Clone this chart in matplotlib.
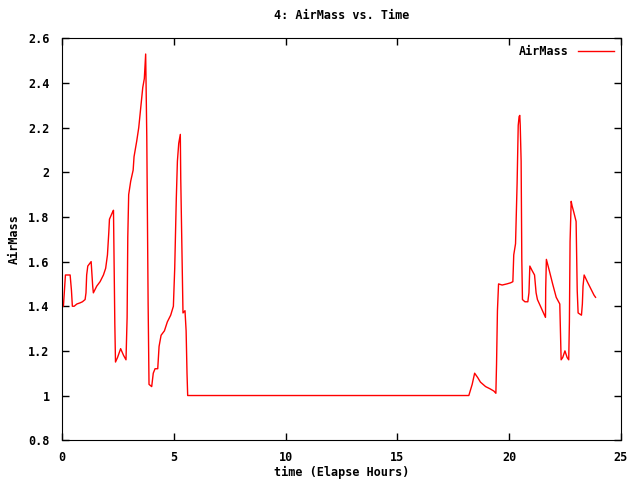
import matplotlib
matplotlib.use("Agg")
import matplotlib.pyplot as plt

# elapsed time (hours) and airmass
time_hours = [0.0, 0.06, 0.13, 0.15, 0.36, 0.42, 0.46, 0.54, 0.66, 0.80, 0.91, 1.03,
              1.07, 1.10, 1.15, 1.30, 1.37, 1.40, 1.55, 1.70, 1.85, 1.95, 2.03, 2.09,
              2.12, 2.25, 2.30, 2.32, 2.36, 2.39, 2.48, 2.62, 2.75, 2.86, 2.91, 2.94,
              2.98, 3.07, 3.18, 3.22, 3.34, 3.43, 3.52, 3.61, 3.68, 3.74, 3.79, 3.85,
              3.89, 4.01, 4.08, 4.16, 4.28, 4.34, 4.43, 4.58, 4.71, 4.86, 4.98, 5.04,
              5.11, 5.16, 5.22, 5.29, 5.31, 5.38, 5.41, 5.50, 5.55, 5.59, 5.62,
              18.20, 18.35, 18.46, 18.60, 18.72, 18.95, 19.15, 19.32, 19.41, 19.44,
              19.48, 19.53, 19.69, 19.90, 20.07, 20.17, 20.21, 20.29, 20.36, 20.41,
              20.45, 20.48, 20.50, 20.54, 20.57, 20.60, 20.71, 20.84, 20.89, 20.93,
              21.03, 21.14, 21.21, 21.27, 21.63, 21.64, 21.67, 21.80, 21.95, 22.11,
              22.27, 22.30, 22.33, 22.40, 22.50, 22.60, 22.67, 22.70, 22.73, 22.78,
              22.82, 22.90, 23.00, 23.05, 23.09, 23.24, 23.28, 23.31, 23.36, 23.50,
              23.65, 23.80, 23.87]
airmass = [1.40, 1.40, 1.51, 1.54, 1.54, 1.47, 1.40, 1.40, 1.41, 1.415, 1.42, 1.43,
           1.46, 1.54, 1.58, 1.60, 1.49, 1.46, 1.49, 1.51, 1.54, 1.57, 1.63, 1.73,
           1.79, 1.82, 1.83, 1.67, 1.32, 1.15, 1.17, 1.21, 1.18, 1.16, 1.35, 1.71,
           1.90, 1.96, 2.01, 2.07, 2.14, 2.20, 2.29, 2.38, 2.42, 2.53, 2.16, 1.41,
           1.05, 1.04, 1.10, 1.12, 1.12, 1.22, 1.27, 1.29, 1.33, 1.36, 1.40, 1.57,
           1.88, 2.05, 2.13, 2.17, 1.97, 1.56, 1.37, 1.38, 1.29, 1.10, 1.00,
           1.00, 1.05, 1.10, 1.08, 1.06, 1.04, 1.03, 1.02, 1.01, 1.14,
           1.38, 1.50, 1.495, 1.50, 1.505, 1.51, 1.63, 1.68, 1.95, 2.21,
           2.25, 2.255, 2.21, 2.05, 1.61, 1.43, 1.42, 1.42, 1.46, 1.58,
           1.56, 1.54, 1.46, 1.43, 1.35, 1.48, 1.61, 1.56, 1.50, 1.44,
           1.41, 1.28, 1.16, 1.17, 1.20, 1.17, 1.16, 1.33, 1.69, 1.87,
           1.85, 1.82, 1.78, 1.47, 1.37, 1.36, 1.41, 1.49, 1.54, 1.51,
           1.48, 1.45, 1.44]

font = {"family": "DejaVu Sans Mono", "weight": "bold", "size": 8.5}
fp = matplotlib.font_manager.FontProperties(**font)

fig = plt.figure(figsize=(6.4, 4.8), dpi=100)
ax = fig.add_axes([0.097, 0.083, 0.873, 0.837])
ax.plot(time_hours, airmass, color="red", linewidth=1, label="AirMass")

ax.set_xlim(0, 25)
ax.set_ylim(0.8, 2.6)
ax.set_xticks([0, 5, 10, 15, 20, 25])
ax.set_yticks([0.8, 1.0, 1.2, 1.4, 1.6, 1.8, 2.0, 2.2, 2.4, 2.6])
ax.set_yticklabels(["0.8", "1", "1.2", "1.4", "1.6", "1.8", "2", "2.2", "2.4", "2.6"])
ax.tick_params(direction="in", top=True, right=True, length=5, width=1)
ax.tick_params(axis="x", pad=8)
ax.tick_params(axis="y", pad=9)
for lab in ax.get_xticklabels() + ax.get_yticklabels():
    lab.set_fontproperties(fp)

ax.set_xlabel("time (Elapse Hours)", fontdict=font, labelpad=1)
ax.set_ylabel("AirMass", fontdict=font, labelpad=5)
ax.set_title("4: AirMass vs. Time", fontdict=font, pad=14)

ax.legend(loc="upper right", frameon=False, prop=fp, markerfirst=False,
          handlelength=3.0, borderaxespad=0.2, handletextpad=0.8)

fig.savefig("out.png", dpi=100)
